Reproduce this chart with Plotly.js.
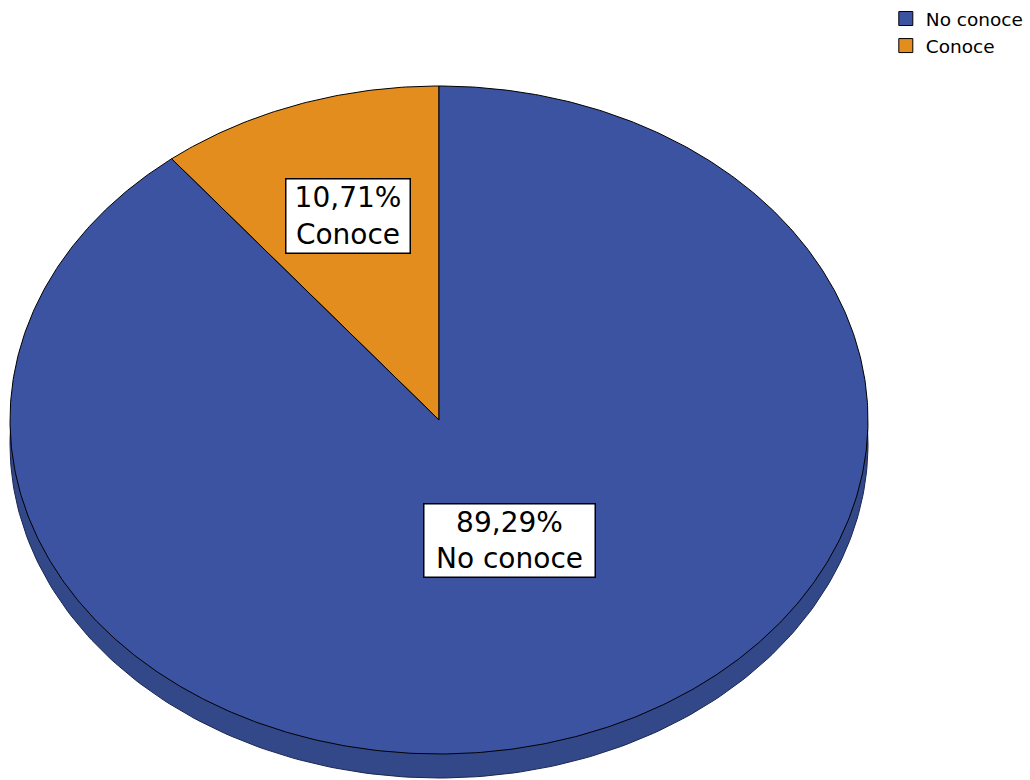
<!DOCTYPE html>
<html>
<head>
<meta charset="utf-8">
<script src="https://cdn.plot.ly/plotly-3.0.1.min.js"></script>
<style>html,body{margin:0;padding:0;background:#fff;}#chart{width:1030px;height:780px;}</style>
</head>
<body>
<div id="chart"></div>
<script>
// ---- data ----
const categories = ["No conoce", "Conoce"];
const percents = [89.29, 10.71];
const colors = ["#3b53a0", "#e38d1f"];
const sideColor = "#334889";

// ---- geometry (layout constants) ----
const W = 1030, H = 780;
const cx = 439, cy = 420, rx = 429, ry = 334, depthPx = 24;
const depth = depthPx / ry;

function arc(a0, a1, n) {
  // angles in degrees, counterclockwise from 12 o'clock
  const xs = [], ys = [];
  for (let i = 0; i <= n; i++) {
    const t = (a0 + (a1 - a0) * i / n) * Math.PI / 180;
    xs.push(-Math.sin(t));
    ys.push(Math.cos(t));
  }
  return [xs, ys];
}

const traces = [];
// 3D side band (full ellipse shifted down, hidden behind top face except bottom rim)
{
  const [xs, ys] = arc(0, 360, 360);
  traces.push({
    type: "scatter", mode: "lines", fill: "toself",
    x: xs, y: ys.map(v => v - depth),
    fillcolor: sideColor, line: {color: "#1a2650", width: 1},
    hoverinfo: "skip", showlegend: false
  });
}
// slices: Conoce starts at top going counterclockwise, then No conoce
const order = [1, 0];
let start = 0;
order.forEach(idx => {
  const sweep = percents[idx] / 100 * 360;
  const n = Math.max(4, Math.round(sweep * 2));
  const [xs, ys] = arc(start, start + sweep, n);
  traces.push({
    type: "scatter", mode: "lines", fill: "toself",
    x: [0].concat(xs, [0]), y: [0].concat(ys, [0]),
    fillcolor: colors[idx], line: {color: "#000", width: 1},
    name: categories[idx], hoverinfo: "name", showlegend: false
  });
  start += sweep;
});
// legend entries
categories.forEach((c, i) => {
  traces.push({
    type: "scatter", mode: "markers", x: [null], y: [null], name: c,
    marker: {symbol: "square", size: 14, color: colors[i], line: {color: "#000", width: 1}},
    showlegend: true
  });
});

function fmt(v) { return v.toFixed(2).replace(".", ",") + "%"; }

const labelPos = [
  {x: (509 - cx) / rx, y: (cy - 540) / ry, w: 170, h: 72},
  {x: (347.5 - cx) / rx, y: (cy - 215.5) / ry, w: 123, h: 73}
];

const annotations = categories.map((c, i) => ({
  x: labelPos[i].x, y: labelPos[i].y, xref: "x", yref: "y",
  text: fmt(percents[i]) + "<br>" + c,
  showarrow: false,
  font: {family: "DejaVu Sans", size: 28, color: "#000"},
  bgcolor: "#fff", bordercolor: "#000", borderwidth: 1.5, borderpad: 0,
  width: labelPos[i].w, height: labelPos[i].h, align: "center", valign: "middle"
}));

const layout = {
  width: W, height: H,
  margin: {l: 0, r: 0, t: 0, b: 0},
  paper_bgcolor: "#fff", plot_bgcolor: "#fff",
  xaxis: {range: [-cx / rx, (W - cx) / rx], visible: false, fixedrange: true},
  yaxis: {range: [-(H - cy) / ry, cy / ry], visible: false, fixedrange: true},
  showlegend: true,
  legend: {x: 0.86, y: 1, xanchor: "left", yanchor: "top", bgcolor: "rgba(0,0,0,0)",
           font: {family: "DejaVu Sans", size: 18.5, color: "#000"}, tracegroupgap: 0},
  annotations: annotations
};

Plotly.newPlot("chart", traces, layout, {displayModeBar: false, staticPlot: true});
</script>
</body>
</html>
